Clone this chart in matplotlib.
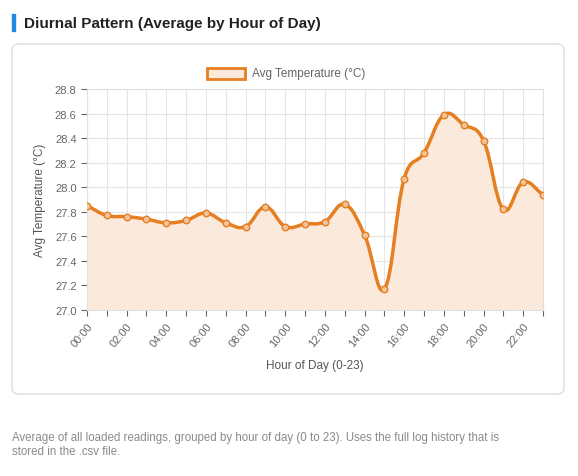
import matplotlib
matplotlib.use("Agg")
import matplotlib.pyplot as plt
from matplotlib.path import Path
from matplotlib.patches import PathPatch, FancyBboxPatch, Rectangle
import numpy as np

hours = list(range(24))
temps = [27.85, 27.77, 27.76, 27.74, 27.71, 27.73, 27.79, 27.71, 27.68, 27.84,
         27.68, 27.70, 27.72, 27.86, 27.61, 27.17, 28.07, 28.28, 28.59, 28.51,
         28.38, 27.82, 28.04, 27.94]

W, H = 578, 477
fig = plt.figure(figsize=(W/100, H/100), dpi=100)
fig.patch.set_facecolor("white")

def fx(px): return px / W
def fy(py): return 1 - py / H

fig.patches.append(Rectangle((fx(12), fy(32)), 3/W, 17/H, transform=fig.transFigure, color="#1e88e5"))
fig.text(fx(24), fy(24), "Diurnal Pattern (Average by Hour of Day)", fontsize=11, fontweight="bold",
         color="#222222", va="center", family="Liberation Sans")
card = FancyBboxPatch((fx(12), fy(395)), 552/W, 350/H, boxstyle="round,pad=0,rounding_size=0.012",
                      transform=fig.transFigure, fc="white", ec="#dddddd", lw=1, zorder=-5)
fig.patches.append(card)
fig.text(fx(12), fy(445), "Average of all loaded readings, grouped by hour of day (0 to 23). Uses the full log history that is\nstored in the .csv file.",
         fontsize=8.3, color="#8a8a8a", va="center", family="Liberation Sans", linespacing=1.2)

ax = fig.add_axes([fx(87), fy(311), (543-87)/W, (311-90)/H])
ax.patch.set_alpha(0)
x = np.array(hours, float); y = np.array(temps)

t = 0.4
verts = [(x[0], y[0])]; codes = [Path.MOVETO]
cps = []
for i in range(len(x)):
    p0 = (x[max(i-1, 0)], y[max(i-1, 0)]); p1 = (x[i], y[i]); p2 = (x[min(i+1, len(x)-1)], y[min(i+1, len(x)-1)])
    d01 = np.hypot(p1[0]-p0[0], p1[1]-p0[1]); d12 = np.hypot(p2[0]-p1[0], p2[1]-p1[1])
    s = d01+d12
    fa = t*d01/s if s else 0; fb = t*d12/s if s else 0
    prev = (p1[0]-fa*(p2[0]-p0[0]), p1[1]-fa*(p2[1]-p0[1]))
    nxt = (p1[0]+fb*(p2[0]-p0[0]), p1[1]+fb*(p2[1]-p0[1]))
    cps.append((prev, nxt))
for i in range(1, len(x)):
    verts += [cps[i-1][1], cps[i][0], (x[i], y[i])]; codes += [Path.CURVE4]*3
line = Path(verts, codes)
fill = Path(verts + [(x[-1], 27.0), (x[0], 27.0), (x[0], y[0])],
            codes + [Path.LINETO, Path.LINETO, Path.CLOSEPOLY])
ax.add_patch(PathPatch(fill, fc="#fbe9dc", ec="none", zorder=1))
ax.add_patch(PathPatch(line, fc="none", ec="#e67e22", lw=2.5, zorder=3))
ax.scatter(x, y, s=22, facecolor="#f3c39c", edgecolor="#e67e22", lw=1, zorder=4)

ax.set_xlim(0, 23); ax.set_ylim(27.0, 28.8)
yt = np.arange(27.0, 28.81, 0.2)
ax.set_yticks(yt)
ax.set_yticklabels([f"{v:.1f}" for v in yt])
ax.set_xticks(hours)
ax.set_xticklabels([f"{h:02d}:00" if h % 2 == 0 else "" for h in hours], rotation=50, ha="right", rotation_mode="anchor")
ax.grid(True, color="#e5e5e5", lw=0.8); ax.set_axisbelow(True)
for s_ in ax.spines.values(): s_.set_color("#e0e0e0")
ax.tick_params(colors="#666666", labelsize=8, length=4)
for lbl in ax.get_xticklabels() + ax.get_yticklabels(): lbl.set_family("Liberation Sans")
ax.set_xlabel("Hour of Day (0-23)", fontsize=8.5, color="#555555", family="Liberation Sans", labelpad=8)
ax.set_ylabel("Avg Temperature (°C)", fontsize=8.5, color="#555555", family="Liberation Sans", labelpad=6)

fig.patches.append(Rectangle((fx(207), fy(80)), 38/W, 11/H, transform=fig.transFigure, fc="#fbe9dc", ec="#e67e22", lw=2))
fig.text(fx(252), fy(74), "Avg Temperature (°C)", fontsize=8.5, color="#666666", va="center", family="Liberation Sans")

fig.savefig("out.png", dpi=100)
